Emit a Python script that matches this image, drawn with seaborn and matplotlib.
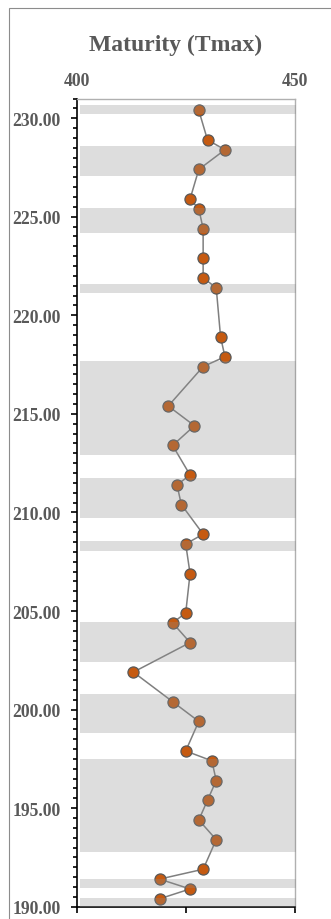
import matplotlib
matplotlib.use("Agg")
import matplotlib.pyplot as plt
import seaborn as sns
import pandas as pd
from matplotlib.patches import Rectangle
from matplotlib.ticker import MultipleLocator, FormatStrFormatter

# ---- data ----
depth = [230.4, 228.9, 228.4, 227.4, 225.9, 225.4, 224.4, 222.9, 221.9, 221.4,
         218.9, 217.9, 217.4, 215.4, 214.4, 213.4, 211.9, 211.4, 210.4, 208.9,
         208.4, 206.9, 204.9, 204.4, 203.4, 201.9, 200.4, 199.4, 197.9, 197.4,
         196.4, 195.4, 194.4, 193.4, 191.9, 191.4, 190.9, 190.4]
tmax = [428, 430, 434, 428, 426, 428, 429, 429, 429, 432,
        433, 434, 429, 421, 427, 422, 426, 423, 424, 429,
        425, 426, 425, 422, 426, 413, 422, 428, 425, 431,
        432, 430, 428, 432, 429, 419, 426, 419]
band_top = [230.66, 228.6, 225.43, 221.58, 217.68, 211.74, 208.53, 204.42, 200.81, 197.48, 191.4, 190.45]
band_bottom = [230.2, 227.08, 224.2, 221.12, 212.93, 209.72, 208.04, 202.39, 198.82, 192.78, 190.96, 190.0]
x_ticks_top = [400, 450]
x_ticks_bottom = [400, 425, 450]
title = "Maturity (Tmax)"

df = pd.DataFrame({"depth": depth, "tmax": tmax})

sns.set_style("white")
plt.rcParams["font.family"] = ["Liberation Serif", "DejaVu Serif"]

W, H = 331, 920
fig = plt.figure(figsize=(W / 100, H / 100), dpi=100)
left, right = 76.7 / W, 294.7 / W
top, bottom = 1 - 99.5 / H, 1 - 907.7 / H
ax = fig.add_axes([left, bottom, right - left, top - bottom])

sns.lineplot(data=df, x="tmax", y="depth", orient="y", estimator=None, sort=True,
             color="#7f7f7f", lw=1.1, marker="o", markersize=8.0,
             markerfacecolor="#c55a11", markeredgecolor="#595959",
             markeredgewidth=0.9, ax=ax, zorder=2)

for t, b in zip(band_top, band_bottom):
    ax.fill_betweenx([b, t], 400.75, 450.2, color="#8d8d8d", alpha=0.29,
                     lw=0, zorder=3)

ax.set_xlim(400, 450)
ax.set_ylim(190, 231)
ax.set_xlabel("")
ax.set_ylabel("")

txtc = "#595959"
ax.set_xticks(x_ticks_bottom)
ax.tick_params(axis="x", which="both", bottom=True, top=False, labelbottom=False,
               labeltop=False, length=4, width=1.2, color="black", direction="out")
ax.yaxis.set_major_locator(MultipleLocator(5))
ax.yaxis.set_minor_locator(MultipleLocator(0.5))
ax.yaxis.set_major_formatter(FormatStrFormatter("%.2f"))
ax.tick_params(axis="y", which="major", left=True, length=4, width=1.2, color="black",
               pad=7.5, labelsize=12.7, labelcolor=txtc)
ax.tick_params(axis="y", which="minor", left=True, length=3, width=1.2, color="black")
for lab in ax.get_yticklabels():
    lab.set_fontweight("bold")

sec = ax.secondary_xaxis("top")
sec.set_xticks(x_ticks_top)
sec.tick_params(length=0, pad=7, labelsize=12.7, labelcolor=txtc)
for lab in sec.get_xticklabels():
    lab.set_fontweight("bold")
sec.spines["top"].set_visible(False)

for s in ["left", "bottom"]:
    ax.spines[s].set_color("black")
    ax.spines[s].set_linewidth(1.2)
for s in ["top", "right"]:
    ax.spines[s].set_color("#b0b0b0")
    ax.spines[s].set_linewidth(1.0)
    ax.spines[s].set_visible(True)

fig.text(175.7 / W, 1 - 50.7 / H, title, ha="center", va="baseline",
         fontsize=17, fontweight="bold", color=txtc)

fig.add_artist(Rectangle((9.3 / W, -1), 2, 1 - 9.3 / H + 1, transform=fig.transFigure,
                         fill=False, ec="#8c8c8c", lw=0.8))

fig.savefig("out.png", dpi=100)
